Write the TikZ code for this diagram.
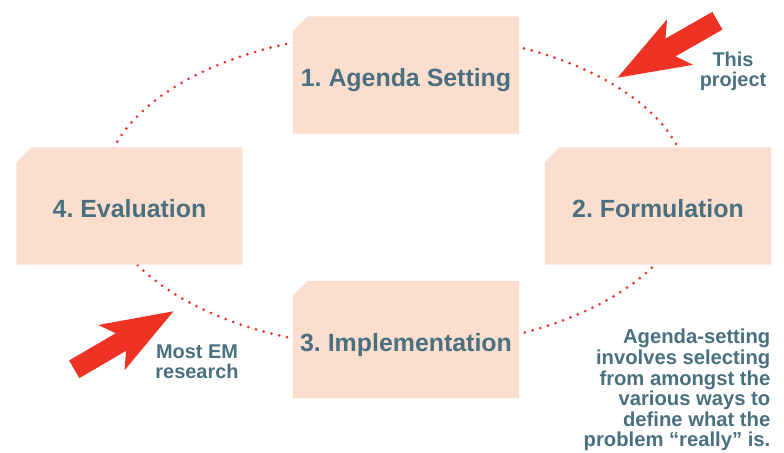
\documentclass[tikz,border=0pt]{standalone}
\usepackage{fontspec}
\setmainfont{Liberation Sans}
\usetikzlibrary{shapes.arrows,backgrounds}

\definecolor{boxfill}{HTML}{FCDECF}
\definecolor{inkblue}{HTML}{4A7080}
\definecolor{markred}{HTML}{EE3325}
\frenchspacing

\begin{document}
\begin{tikzpicture}[x=1bp, y=-1bp, every node/.style={text=inkblue},
  stage/.style={rectangle, minimum width=226bp, minimum height=117bp, inner sep=0pt,
    text height=24bp, text depth=0bp, font=\bfseries\fontsize{25}{30}\selectfont},
  note/.style={inner sep=0pt, align=center, font=\bfseries\fontsize{20}{20}\selectfont},
  pointer/.style={single arrow, fill=markred, inner xsep=0pt, inner ysep=10bp,
    minimum height=115bp, single arrow head extend=16bp,
    single arrow tip angle=40, single arrow head indent=11bp},
  cycledots/.style={markred, line width=3bp, line cap=round, dash pattern=on 0pt off 8bp}]
\useasboundingbox (0,0) rectangle (784,453);

\node[stage] (agenda) at (406,75) {1. Agenda Setting};
\node[stage] (formul) at (658,206) {2. Formulation};
\node[stage] (implem) at (406,339.5) {3. Implementation};
\node[stage] (evalu) at (129.5,206) {4. Evaluation};

\begin{scope}[on background layer]
% dotted cycle, then the clipped-corner cards over it
\draw[cycledots] (396,190.5) ellipse [x radius=293, y radius=158];
\foreach \s in {agenda,formul,implem,evalu}
  \fill[boxfill] ([yshift=-15bp]\s.north west) -- ([xshift=15bp]\s.north west)
    -- (\s.north east) -- (\s.south east) -- (\s.south west) -- cycle;
\end{scope}

\node[pointer, rotate=209.7, anchor=tip] (ptrtop) at (617,78) {};
\node[pointer, rotate=30.3, anchor=tip] (ptrbot) at (174,311) {};

\node[note, anchor=north] (thisproj) at (733,52) {This\\project};
\node[note, anchor=north] (mostem) at (197,345) {Most EM\\research};
\node[note, align=right, anchor=north east, font=\bfseries\fontsize{20.3}{20.7}\selectfont]
  (aside) at (770.5,329) {Agenda-setting\\involves selecting\\from amongst the\\various ways to\\define what the\\problem “really” is.};
\end{tikzpicture}
\end{document}
